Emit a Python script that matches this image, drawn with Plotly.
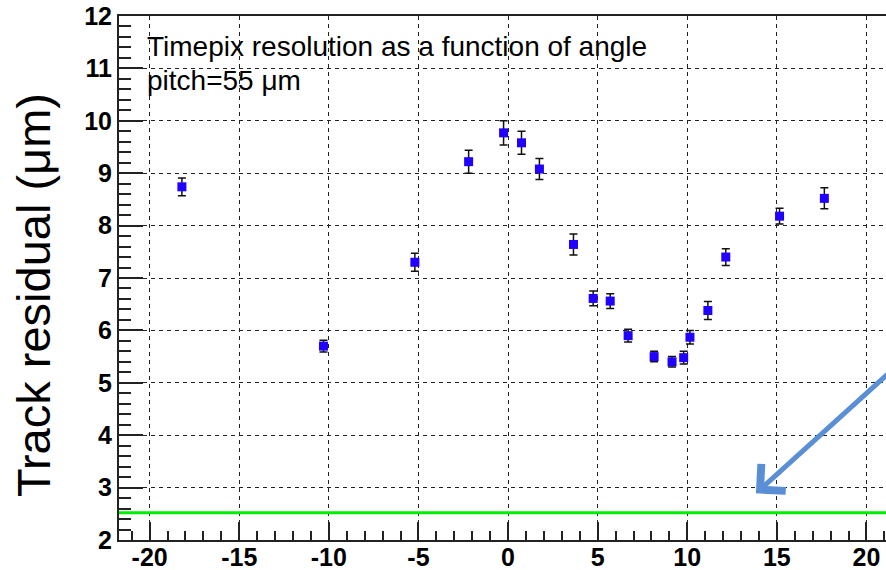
import plotly.graph_objects as go

# Data
angle = [-18.2, -10.3, -5.2, -2.2, -0.25, 0.75, 1.75, 3.65, 4.75, 5.7,
         6.7, 8.15, 9.15, 9.8, 10.15, 11.15, 12.15, 15.15, 17.65]
residual = [8.74, 5.70, 7.30, 9.22, 9.77, 9.58, 9.08, 7.64, 6.61, 6.56,
            5.90, 5.50, 5.40, 5.48, 5.87, 6.38, 7.40, 8.18, 8.52]
residual_err = [0.17, 0.11, 0.17, 0.22, 0.23, 0.22, 0.20, 0.20, 0.14, 0.14,
                0.12, 0.10, 0.10, 0.12, 0.13, 0.17, 0.16, 0.15, 0.20]
reference_level = 2.52
x_ticks = [-20, -15, -10, -5, 0, 5, 10, 15, 20]
x_ticktext = ["-20", "-15", "-10", "-5", "0", "5", "10", "15", "20"]
y_ticks = [2, 3, 4, 5, 6, 7, 8, 9, 10, 11, 12]

W, H = 886, 570
ML, MR, MT, MB = 119, 0, 16, 30
PW, PH = W - ML - MR, H - MT - MB

fig = go.Figure()
fig.add_trace(go.Scatter(
    x=angle, y=residual, mode="markers",
    marker=dict(symbol="square", size=9, color="#2000ff",
                line=dict(width=0)),
    error_y=dict(type="data", array=residual_err, color="#111",
                 thickness=1.5, width=4),
    showlegend=False,
))

fig.add_shape(type="line", xref="paper", x0=0, x1=1, yref="y",
              y0=reference_level, y1=reference_level,
              line=dict(color="#00ee00", width=3))

def px_to_paper_y(py):
    return 1 - (py - MT) / PH

def px_to_paper_x(px):
    return (px - ML) / PW

fig.add_annotation(text="Timepix resolution as a function of angle",
                   xref="paper", yref="paper", x=px_to_paper_x(145),
                   y=px_to_paper_y(46), xanchor="left", yanchor="middle",
                   showarrow=False,
                   font=dict(family="Liberation Sans, Arial", size=28, color="black"))
fig.add_annotation(text="pitch=55 μm",
                   xref="paper", yref="paper", x=px_to_paper_x(145),
                   y=px_to_paper_y(81), xanchor="left", yanchor="middle",
                   showarrow=False,
                   font=dict(family="Liberation Sans, Arial", size=28, color="black"))

fig.add_annotation(text="Track residual (μm)", textangle=-90,
                   xref="paper", yref="paper", x=px_to_paper_x(33),
                   y=px_to_paper_y(295), xanchor="center", yanchor="middle",
                   showarrow=False,
                   font=dict(family="Liberation Sans, Arial", size=47, color="black"))

# blue arrow
fig.add_annotation(x=13.83, y=2.89, xref="x", yref="y",
                   ax=21.9, ay=5.39, axref="x", ayref="y",
                   text="", showarrow=True, arrowhead=4, arrowsize=1.4,
                   arrowwidth=5, arrowcolor="#5a8fd6")

axis_common = dict(showline=True, linecolor="#222", linewidth=2,
                   ticks="inside", tickcolor="#222", tickwidth=1.5,
                   showgrid=True, gridcolor="#222", gridwidth=1.2,
                   griddash="4px,4px", zeroline=False,
                   tickfont=dict(family="Liberation Sans, Arial", size=25,
                                 color="black", weight="bold"))

fig.update_xaxes(range=[-21.71, 21.09], tickvals=x_ticks, ticktext=x_ticktext,
                 ticklen=18, mirror=True, ticklabelstandoff=-6,
                 minor=dict(dtick=1, tick0=0, ticks="inside", ticklen=9,
                            tickcolor="#222", showgrid=False),
                 **axis_common)
fig.update_yaxes(range=[2, 12], tickvals=y_ticks, ticklen=24,
                 minor=dict(dtick=0.2, tick0=2, ticks="inside", ticklen=12,
                            tickcolor="#222", showgrid=False),
                 **axis_common)

fig.update_layout(width=W, height=H,
                  margin=dict(l=ML, r=MR, t=MT, b=MB, autoexpand=False),
                  paper_bgcolor="white", plot_bgcolor="white")

fig.write_html("out.html")
